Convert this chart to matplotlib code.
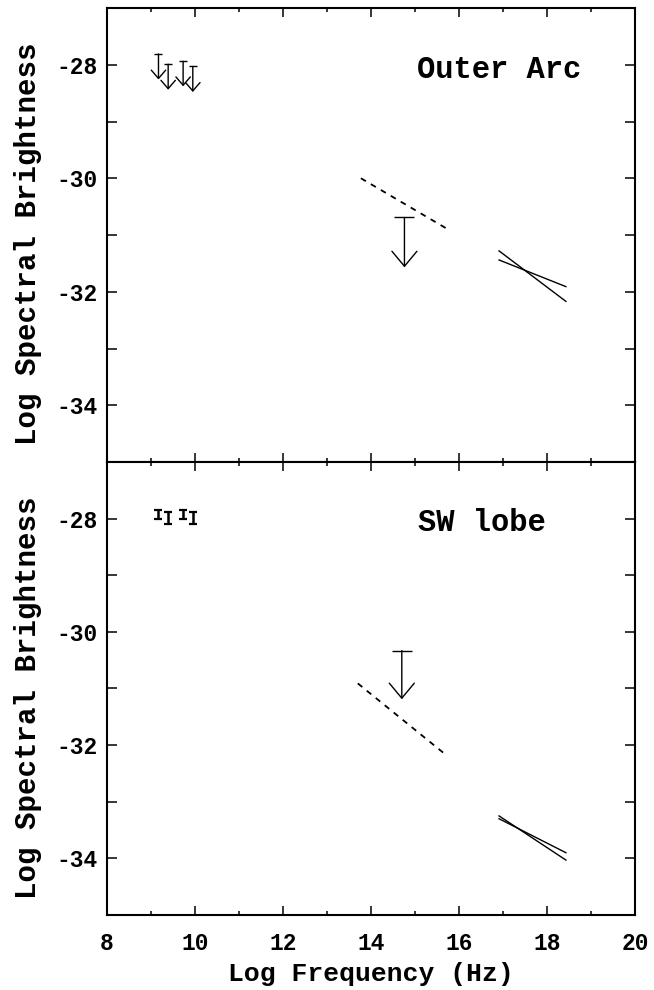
import matplotlib
matplotlib.use("Agg")
import matplotlib.pyplot as plt
from matplotlib.ticker import MultipleLocator

plt.rcParams['font.family'] = ['Liberation Mono', 'DejaVu Sans Mono']
plt.rcParams['font.weight'] = 'bold'
plt.rcParams['axes.unicode_minus'] = False

# ---------------- data ----------------
radio_x = [9.17, 9.39, 9.73, 9.95]
outer_radio_top = [-27.81, -27.99, -27.94, -28.03]
outer_radio_tip = [-28.26, -28.44, -28.38, -28.48]
outer_opt_x = [14.76]
outer_opt_top = [-30.69]
outer_opt_tip = [-31.57]
outer_dash_x = [13.77, 15.77]
outer_dash_y = [-30.00, -30.91]
xray_x = [16.91, 18.43]
outer_xray_steep = [-31.28, -32.17]
outer_xray_flat = [-31.44, -31.91]

sw_radio_y = [-27.92, -27.99, -27.92, -27.99]
sw_radio_err = [0.08, 0.10, 0.08, 0.10]
sw_opt_x = [14.70]
sw_opt_top = [-30.33]
sw_opt_tip = [-31.19]
sw_dash_x = [13.70, 15.70]
sw_dash_y = [-30.91, -32.17]
sw_xray_steep = [-33.25, -34.03]
sw_xray_flat = [-33.30, -33.90]

xticks = [8, 10, 12, 14, 16, 18, 20]
yticks = [-34, -32, -30, -28]
panel_labels = ["Outer Arc", "SW lobe"]

# ---------------- figure ----------------
W, H = 654, 990
fig = plt.figure(figsize=(W / 100, H / 100), dpi=100)
L, R, T, M, B = 107, 635, 8, 462, 915
ax1 = fig.add_axes([L / W, 1 - M / H, (R - L) / W, (M - T) / H])
ax2 = fig.add_axes([L / W, 1 - B / H, (R - L) / W, (B - M) / H])

LW = 1.0


def upper_limits(ax, xs, tops, tips, cap, hl, hw):
    for x, t, p in zip(xs, tops, tips):
        ax.annotate('', xy=(x, p), xytext=(x, t),
                    arrowprops=dict(arrowstyle=f'->,head_length={hl},head_width={hw}',
                                    lw=LW, color='black', shrinkA=0, shrinkB=0,
                                    mutation_scale=1))
        ax.plot([x], [t], marker='_', markersize=cap, markeredgewidth=LW, color='black')


for ax in (ax1, ax2):
    ax.set_xlim(8, 20)
    ax.set_ylim(-35, -27)
    ax.set_xticks(xticks)
    ax.set_yticks(yticks)
    ax.xaxis.set_minor_locator(MultipleLocator(1))
    ax.yaxis.set_minor_locator(MultipleLocator(1))
    ax.tick_params(which='both', direction='in', top=True, right=True, width=1.1,
                   labelsize=16.5, pad=7)
    ax.tick_params(axis='x', which='major', length=6.8, pad=12)
    ax.tick_params(axis='x', which='minor', length=3.2)
    ax.tick_params(axis='y', which='both', length=7.0)
    for s in ax.spines.values():
        s.set_linewidth(1.5)
    ax.set_ylabel('Log Spectral Brightness', fontsize=21, fontweight='bold')
    ax.yaxis.set_label_coords(-0.124, 0.48)

ax1.tick_params(axis='x', labelbottom=False)

# Top panel
upper_limits(ax1, radio_x, outer_radio_top, outer_radio_tip, 6, 6, 5.2)
upper_limits(ax1, outer_opt_x, outer_opt_top, outer_opt_tip, 13.7, 10.8, 9)
ax1.plot(outer_dash_x, outer_dash_y, color='black', lw=1.3, linestyle=(0, (3.2, 3.2)))
ax1.plot(xray_x, outer_xray_steep, color='black', lw=LW)
ax1.plot(xray_x, outer_xray_flat, color='black', lw=LW)
ax1.text(0.587, 0.863, panel_labels[0], transform=ax1.transAxes, fontsize=22,
         fontweight='bold', ha='left', va='center')

# Bottom panel
ax2.errorbar(radio_x, sw_radio_y, yerr=sw_radio_err, fmt='none', ecolor='black',
             elinewidth=1.8, capsize=2.6, capthick=1.6)
upper_limits(ax2, sw_opt_x, sw_opt_top, sw_opt_tip, 13.7, 10.8, 9)
ax2.plot(sw_dash_x, sw_dash_y, color='black', lw=1.3, linestyle=(0, (3.2, 3.2)))
ax2.plot(xray_x, sw_xray_steep, color='black', lw=LW)
ax2.plot(xray_x, sw_xray_flat, color='black', lw=LW)
ax2.text(0.589, 0.865, panel_labels[1], transform=ax2.transAxes, fontsize=22,
         fontweight='bold', ha='left', va='center')
ax2.set_xlabel('Log Frequency (Hz)', fontsize=19, fontweight='bold', labelpad=5)

fig.savefig('out.png', dpi=100)
